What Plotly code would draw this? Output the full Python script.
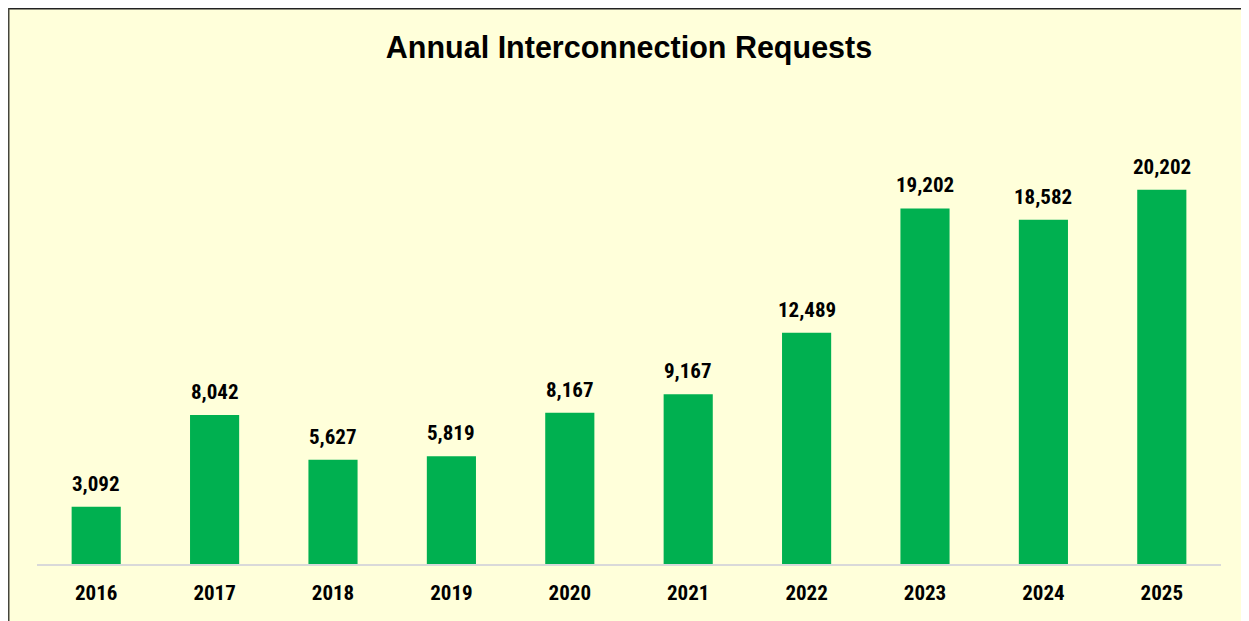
import plotly.graph_objects as go

years = ["2016", "2017", "2018", "2019", "2020", "2021", "2022", "2023", "2024", "2025"]
requests = [3092, 8042, 5627, 5819, 8167, 9167, 12489, 19202, 18582, 20202]
labels = [f"{v:,}" for v in requests]

NUM_FONT = "Roboto Condensed, Liberation Sans Narrow, Arial Narrow, sans-serif"
TITLE_FONT = "Liberation Sans, Arial, sans-serif"

W, H = 1241, 613
L, R, T, B = 29, 28, 93, 57
pw, ph = W - L - R, H - T - B


def px_x(p):
    return (p - L) / pw


def px_y(p):
    return (H - B - p) / ph


fig = go.Figure()
fig.add_trace(go.Bar(
    x=years, y=requests,
    marker=dict(color="#00B050", line=dict(width=0)),
    hoverinfo="skip",
))

# data labels: positioned on the category axis by category index
for i, (v, t) in enumerate(zip(requests, labels)):
    fig.add_annotation(x=i, y=v, xref="x", yref="y", text=f"<b>{t}</b>", showarrow=False,
                       yanchor="bottom", yshift=9,
                       font=dict(family=NUM_FONT, size=21, color="#000000"))

fig.update_layout(
    width=W, height=H,
    margin=dict(l=L, r=R, t=T, b=B, autoexpand=False),
    paper_bgcolor="#FFFFDA",
    plot_bgcolor="rgba(0,0,0,0)",
    bargap=0.585,
    showlegend=False,
    title=dict(text="<b>Annual Interconnection Requests</b>", x=0.5, xanchor="center",
               y=1 - 39 / H, yanchor="middle", xref="paper",
               font=dict(family=TITLE_FONT, size=30.5, color="#000000")),
    xaxis=dict(type="category", categoryorder="array", categoryarray=years,
               range=[-0.5, len(years) - 0.5],
               showline=True, linecolor="#D9D9D9", linewidth=2, showgrid=False,
               ticks="outside", ticklen=9, tickcolor="rgba(0,0,0,0)",
               tickfont=dict(family=NUM_FONT, size=21, color="#000000"),
               tickprefix="<b>", ticksuffix="</b>", fixedrange=True),
    yaxis=dict(range=[0, 25000], visible=False, showgrid=False, zeroline=False, fixedrange=True),
    shapes=[
        dict(type="line", xref="paper", yref="paper", layer="above",
             x0=px_x(0), x1=px_x(W + 10), y0=px_y(0.5), y1=px_y(0.5),
             line=dict(color="#222222", width=2)),
        dict(type="line", xref="paper", yref="paper", layer="above",
             x0=px_x(0.5), x1=px_x(0.5), y0=px_y(0), y1=px_y(H + 10),
             line=dict(color="#44443C", width=2)),
    ],
)

fig.write_html("out.html")
